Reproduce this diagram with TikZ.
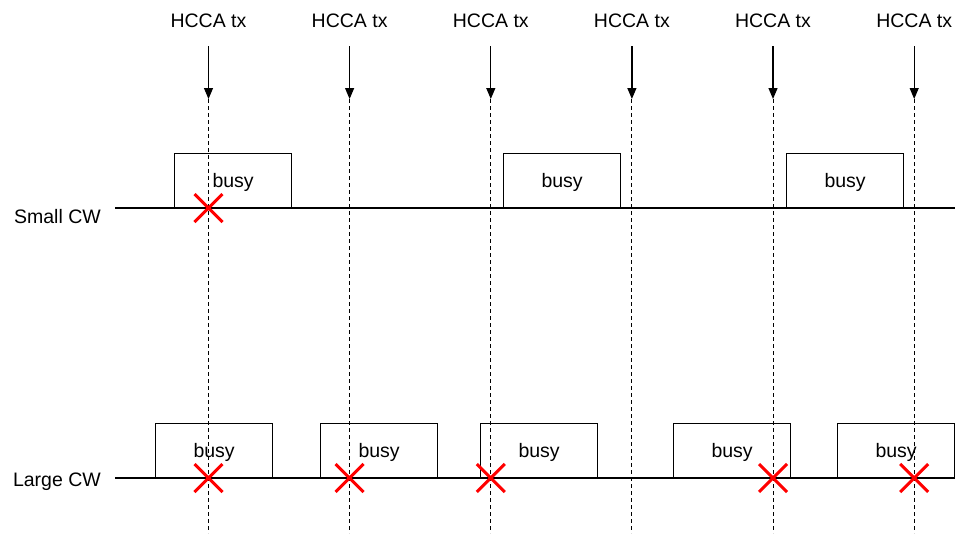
\documentclass[tikz,border=0pt]{standalone}
\usepackage{fontspec}
\setmainfont{Liberation Sans}
\usetikzlibrary{arrows.meta,shapes.misc}
\begin{document}
\begin{tikzpicture}[x=1pt,y=-1pt,
  txt/.style={font=\fontsize{19.5}{22}\selectfont, inner sep=0pt},
  lbl/.style={txt, anchor=base},
  busybox/.style={draw, line width=1.2pt, minimum width=117pt, minimum height=54pt, inner sep=0pt, anchor=south west, txt, text height=15pt, text depth=0pt},
  axis/.style={line width=1.2pt},
  txarrow/.style={line width=1.2pt, -{Triangle[length=11pt,width=9pt]}},
  guide/.style={line width=1pt, dash pattern=on 4pt off 3pt},
  xmark/.style={cross out, draw=red, line width=3pt, minimum size=25pt, inner sep=0pt}]
\useasboundingbox (0,0) rectangle (955,533);
% time axes
\node[lbl, anchor=base east] (small) at (101,223) {Small CW};
\node[lbl, anchor=base east] (large) at (101,486) {Large CW};
\coordinate (s0) at (115,208); \coordinate (s1) at (955,208);
\coordinate (l0) at (115,478); \coordinate (l1) at (955,478);
\draw[axis] (s0) -- (s1);
\draw[axis] (l0) -- (l1);
% busy boxes
\node[busybox] (sb1) at (174,208) {busy};
\node[busybox] (sb2) at (503,208) {busy};
\node[busybox] (sb3) at (786,208) {busy};
\node[busybox] (lb1) at (155,478) {busy};
\node[busybox] (lb2) at (320,478) {busy};
\node[busybox] (lb3) at (480,478) {busy};
\node[busybox] (lb4) at (673,478) {busy};
\node[busybox] (lb5) at (837,478) {busy};
% HCCA transmissions
\foreach \i/\x in {1/208.5,2/349.6,3/490.8,4/631.9,5/773,6/914.2}{
  \node[lbl, anchor=base] (h\i) at (\x,27) {HCCA tx};
  \coordinate (a\i) at (\x,46);
  \coordinate (b\i) at (\x,99);
  \coordinate (e\i) at (\x,533);
  \draw[txarrow] (a\i) -- (b\i);
  \draw[guide] (b\i) -- (e\i);
}
% collisions
\node[xmark] (xs1) at (208.5,208) {};
\node[xmark] (xl1) at (208.5,478) {};
\node[xmark] (xl2) at (349.6,478) {};
\node[xmark] (xl3) at (490.8,478) {};
\node[xmark] (xl4) at (773,478) {};
\node[xmark] (xl5) at (914.2,478) {};
\end{tikzpicture}
\end{document}
